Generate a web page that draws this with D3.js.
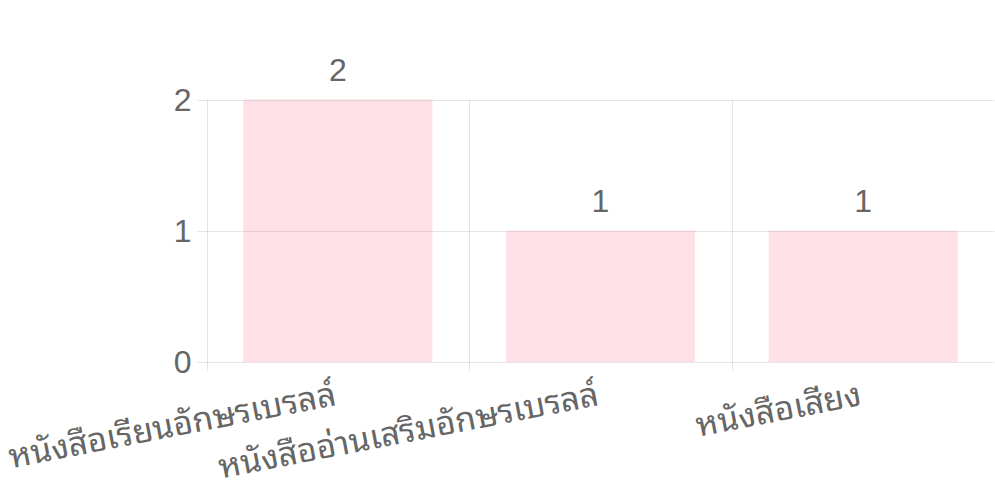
<!DOCTYPE html>
<html><head><meta charset="utf-8">
<script src="https://cdn.jsdelivr.net/npm/d3@7"></script>
<style>html,body{margin:0;padding:0;background:#fff;}svg{display:block;font-family:"Liberation Sans",Arial,Helvetica,sans-serif;}</style>
</head><body>
<svg id="chart" width="995" height="497"></svg>
<script>
const categories = ["หนังสือเรียนอักษรเบรลล์", "หนังสืออ่านเสริมอักษรเบรลล์", "หนังสือเสียง"];
const values = [2, 1, 1];
const yTicks = [0, 1, 2];

(function () {
const svg = d3.select("#chart");
const pl = 206.5, pr = 994.5, pt = 99.5, pb = 362;
const x = d3.scaleBand().domain(categories).range([pl, pr]).paddingInner(0).paddingOuter(0);
const y = d3.scaleLinear().domain([0, 2]).range([pb, pt]);
const grid = "rgba(0,0,0,0.1)";
const txt = "#666";

svg.append("g").selectAll("line").data(yTicks).join("line")
  .attr("x1", pl - 9).attr("x2", pr)
  .attr("y1", d => Math.round(y(d)) + 0.5).attr("y2", d => Math.round(y(d)) + 0.5)
  .attr("stroke", grid).attr("stroke-width", 1);
const bounds = categories.map(c => x(c)).concat([x(categories[categories.length - 1]) + x.bandwidth()]);
svg.append("g").selectAll("line").data(bounds).join("line")
  .attr("x1", d => Math.round(d) + 0.5).attr("x2", d => Math.round(d) + 0.5)
  .attr("y1", pt).attr("y2", pb + 9)
  .attr("stroke", grid).attr("stroke-width", 1);

const bw = x.bandwidth() * 0.72;
svg.append("g").selectAll("rect").data(values).join("rect")
  .attr("x", (d, i) => x(categories[i]) + (x.bandwidth() - bw) / 2)
  .attr("width", bw)
  .attr("y", d => y(d)).attr("height", d => y(0) - y(d))
  .attr("fill", "rgba(255,99,132,0.2)");

svg.append("g").selectAll("text").data(values).join("text")
  .attr("x", (d, i) => x(categories[i]) + x.bandwidth() / 2)
  .attr("y", d => y(d) - 18.5)
  .attr("text-anchor", "middle").attr("fill", txt).attr("font-size", 32)
  .text(d => d);

svg.append("g").selectAll("text").data(yTicks).join("text")
  .attr("x", pl - 15).attr("y", d => y(d))
  .attr("dy", "0.35em").attr("text-anchor", "end").attr("fill", txt).attr("font-size", 32)
  .text(d => d);

svg.append("g").selectAll("text").data(categories).join("text")
  .attr("transform", c => `translate(${x(c) + x.bandwidth() / 2 - 2},396) rotate(-11)`)
  .attr("text-anchor", "end").attr("dominant-baseline", "middle")
  .attr("fill", txt).attr("font-size", 33.5)
  .attr("font-family", "'Noto Sans Thai Looped','Tlwg Typo','Garuda','Loma','Waree','Norasi','Sarabun','Noto Sans Thai','Liberation Sans',sans-serif")
  .text(c => c);
})();
</script>
</body></html>
